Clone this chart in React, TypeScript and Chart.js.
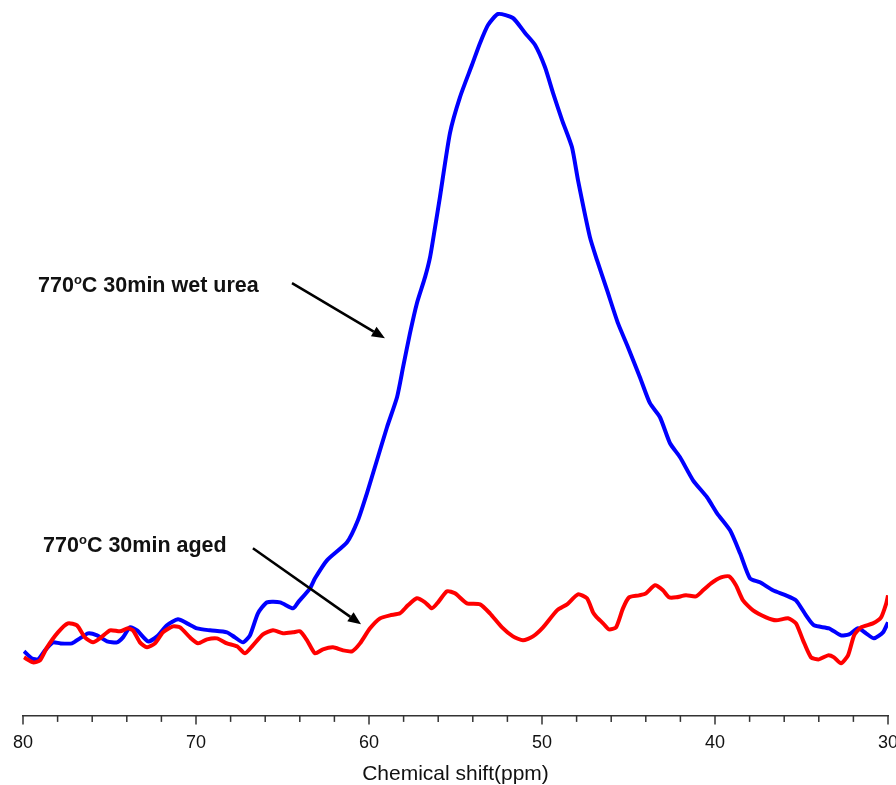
import { useEffect, useRef } from "react";
import { Chart, registerables } from "chart.js";

Chart.register(...registerables);

// 770°C 30min wet urea (blue)
const wetUreaShift = [
  79.94, 79.48, 79.13, 78.73, 78.27, 77.86, 77.17, 76.71, 76.24, 75.72, 75.14, 74.57, 74.22, 73.82, 73.41,
  72.77, 72.25, 71.68, 71.04, 70.52, 69.94, 69.19, 68.21, 67.75, 67.28, 66.88, 66.42, 65.9, 65.14, 64.39,
  64.1, 63.41, 63.12, 62.43, 61.27, 60.64, 60.12, 59.54, 58.96, 58.38, 58.03, 57.63, 57.23, 56.76, 56.47,
  56.18, 55.9, 55.32, 54.74, 54.05, 53.58, 53.12, 52.54, 51.68, 50.98, 50.4, 49.83, 49.36, 48.84, 48.27,
  47.92, 47.23, 46.82, 46.24, 45.61, 45.03, 44.34, 43.76, 43.18, 42.6, 42.02, 41.27, 40.46, 39.88, 39.13,
  38.55, 37.98, 37.4, 36.65, 35.9, 35.32, 34.74, 34.28, 33.41, 32.72, 32.25, 31.73, 31.27, 30.81, 30.29, 30.0,
];
const wetUreaIntensity = [
  64, 57, 56, 65, 73, 72, 72, 77, 82, 80, 74, 73, 78, 88, 85,
  74, 79, 90, 96, 92, 87, 85, 83, 78, 73, 80, 102, 113, 113, 107,
  113, 127, 137, 155, 173, 195, 222, 255, 288, 318, 348, 382, 412, 438, 458,
  488, 518, 582, 618, 650, 672, 690, 701, 697, 682, 670, 648, 622, 595, 568,
  535, 478, 455, 425, 392, 368, 338, 312, 298, 272, 258, 235, 218, 202, 185,
  162, 137, 133, 125, 120, 115, 100, 90, 87, 80, 81, 87, 82, 77, 83, 93,
];

// 770°C 30min aged (red)
const agedShift = [
  79.94, 79.42, 79.02, 78.61, 77.98, 77.4, 76.88, 76.42, 75.95, 75.55, 74.97, 74.39, 73.93, 73.64, 73.24,
  72.83, 72.37, 71.91, 71.33, 70.92, 70.35, 69.88, 69.36, 68.79, 68.21, 67.63, 67.17, 66.71, 66.13, 65.55,
  64.97, 64.39, 63.99, 63.58, 63.12, 62.66, 62.08, 61.5, 60.98, 60.52, 59.94, 59.36, 58.79, 58.21, 57.75,
  57.23, 56.76, 56.36, 56.01, 55.49, 55.03, 54.34, 53.58, 53.01, 52.31, 51.68, 51.1, 50.52, 49.94, 49.13,
  48.55, 47.92, 47.4, 47.05, 46.88, 46.47, 46.13, 45.72, 45.32, 44.97, 44.39, 43.99, 43.47, 43.01, 42.66,
  42.25, 41.68, 41.1, 40.69, 40.23, 39.65, 39.19, 38.79, 38.38, 37.8, 37.05, 36.47, 35.78, 35.32, 34.91,
  34.45, 33.99, 33.47, 33.12, 32.72, 32.31, 31.96, 31.56, 30.87, 30.4, 30.1, 30.0,
];
const agedIntensity = [
  58, 53, 55, 68, 83, 92, 90, 78, 73, 77, 85, 84, 87, 85, 73,
  68, 72, 83, 89, 88, 78, 72, 76, 77, 72, 69, 62, 70, 81, 85,
  82, 83, 84, 75, 62, 66, 68, 65, 64, 72, 87, 97, 100, 102, 110,
  117, 113, 107, 113, 124, 122, 112, 111, 102, 88, 79, 75, 79, 88, 105,
  111, 121, 117, 103, 99, 92, 86, 88, 107, 118, 120, 122, 130, 125, 118,
  118, 120, 119, 125, 132, 138, 139, 130, 115, 105, 98, 95, 97, 92, 75,
  58, 56, 60, 58, 52, 60, 80, 88, 92, 98, 112, 120,
];

const xMajorTicks = [80, 70, 60, 50, 40, 30];
const xMinorTicks = [78, 76, 74, 72, 68, 66, 64, 62, 58, 56, 54, 52, 48, 46, 44, 42, 38, 36, 34, 32];

// annotation anchors in data units [shift, intensity]
const labelWetUrea = { text: ["770", "o", "C 30min wet urea"], at: [79.13, 423] };
const labelAged = { text: ["770", "o", "C 30min aged"], at: [78.84, 163] };
const arrowWetUrea = { from: [64.45, 432], to: [59.08, 377] };
const arrowAged = { from: [66.71, 167], to: [60.46, 91] };

const FONT = '"Liberation Sans", Arial, Helvetica, sans-serif';

const overlayPlugin = {
  id: "overlay",
  afterDraw(chart: any) {
    const { ctx, chartArea } = chart;
    const xs = chart.scales.x;
    const ys = chart.scales.y;
    ctx.save();
    // ticks
    ctx.strokeStyle = "#333";
    ctx.lineWidth = 1.5;
    const drawTick = (v: number, len: number) => {
      const px = xs.getPixelForValue(v);
      ctx.beginPath();
      ctx.moveTo(px, chartArea.bottom);
      ctx.lineTo(px, chartArea.bottom + len);
      ctx.stroke();
    };
    xMajorTicks.forEach((v) => drawTick(v, 9));
    xMinorTicks.forEach((v) => drawTick(v, 6.5));

    // labels
    const drawLabel = (lab: { text: string[]; at: number[] }) => {
      let px = xs.getPixelForValue(lab.at[0]);
      const py = ys.getPixelForValue(lab.at[1]);
      ctx.fillStyle = "#111";
      ctx.textBaseline = "alphabetic";
      ctx.textAlign = "left";
      ctx.font = `bold 21.5px ${FONT}`;
      ctx.fillText(lab.text[0], px, py);
      px += ctx.measureText(lab.text[0]).width;
      ctx.font = `bold 13px ${FONT}`;
      ctx.fillText(lab.text[1], px, py - 8.5);
      px += ctx.measureText(lab.text[1]).width;
      ctx.font = `bold 21.5px ${FONT}`;
      ctx.fillText(lab.text[2], px, py);
    };
    drawLabel(labelWetUrea);
    drawLabel(labelAged);

    // arrows
    const drawArrow = (a: { from: number[]; to: number[] }) => {
      const x1 = xs.getPixelForValue(a.from[0]);
      const y1 = ys.getPixelForValue(a.from[1]);
      const x2 = xs.getPixelForValue(a.to[0]);
      const y2 = ys.getPixelForValue(a.to[1]);
      const ang = Math.atan2(y2 - y1, x2 - x1);
      const headLen = 13;
      const headW = 5.5;
      const bx = x2 - headLen * Math.cos(ang);
      const by = y2 - headLen * Math.sin(ang);
      ctx.strokeStyle = "#000";
      ctx.fillStyle = "#000";
      ctx.lineWidth = 2.5;
      ctx.beginPath();
      ctx.moveTo(x1, y1);
      ctx.lineTo(bx, by);
      ctx.stroke();
      ctx.beginPath();
      ctx.moveTo(x2, y2);
      ctx.lineTo(bx + headW * Math.sin(ang), by - headW * Math.cos(ang));
      ctx.lineTo(bx - headW * Math.sin(ang), by + headW * Math.cos(ang));
      ctx.closePath();
      ctx.fill();
    };
    drawArrow(arrowWetUrea);
    drawArrow(arrowAged);
    ctx.restore();
  },
};

export default function App() {
  const canvasRef = useRef<HTMLCanvasElement | null>(null);

  useEffect(() => {
    if (!canvasRef.current) return;
    const chart = new Chart(canvasRef.current, {
      type: "line",
      data: {
        datasets: [
          {
            label: "770°C 30min aged",
            data: agedShift.map((x, i) => ({ x, y: agedIntensity[i] })),
            borderColor: "#ff0000",
            borderWidth: 4,
            pointRadius: 0,
            tension: 0.2,
            fill: false,
          },
          {
            label: "770°C 30min wet urea",
            data: wetUreaShift.map((x, i) => ({ x, y: wetUreaIntensity[i] })),
            borderColor: "#0000ff",
            borderWidth: 4,
            pointRadius: 0,
            tension: 0.2,
            fill: false,
          },
        ],
      },
      options: {
        animation: false,
        responsive: true,
        maintainAspectRatio: false,
        layout: { padding: { left: 23, right: 8, top: 5, bottom: 0 } },
        plugins: { legend: { display: false }, tooltip: { enabled: false } },
        scales: {
          x: {
            type: "linear",
            min: 30,
            max: 80,
            reverse: true,
            afterFit: (scale: any) => {
              scale.paddingLeft = 0;
              scale.paddingRight = 0;
            },
            afterBuildTicks: (scale: any) => {
              scale.ticks = xMajorTicks.map((v) => ({ value: v }));
            },
            grid: {
              display: true,
              drawOnChartArea: false,
              drawTicks: true,
              tickLength: 8,
              tickColor: "rgba(0,0,0,0)",
            },
            border: { display: true, color: "#333", width: 1.5 },
            ticks: {
              padding: 9,
              color: "#111",
              font: { family: FONT, size: 18 },
              maxRotation: 0,
              autoSkip: false,
            },
            title: {
              display: true,
              text: "Chemical shift(ppm)",
              color: "#111",
              font: { family: FONT, size: 21, lineHeight: 1 },
              padding: { top: 1, bottom: 0 },
            },
          },
          y: { display: false, min: 0, max: 710 },
        },
      },
      plugins: [overlayPlugin],
    });
    return () => chart.destroy();
  }, []);

  return (
    <div style={{ position: "fixed", left: 0, top: 0, width: 896, height: 785, background: "#fff" }}>
      <canvas ref={canvasRef} />
    </div>
  );
}
